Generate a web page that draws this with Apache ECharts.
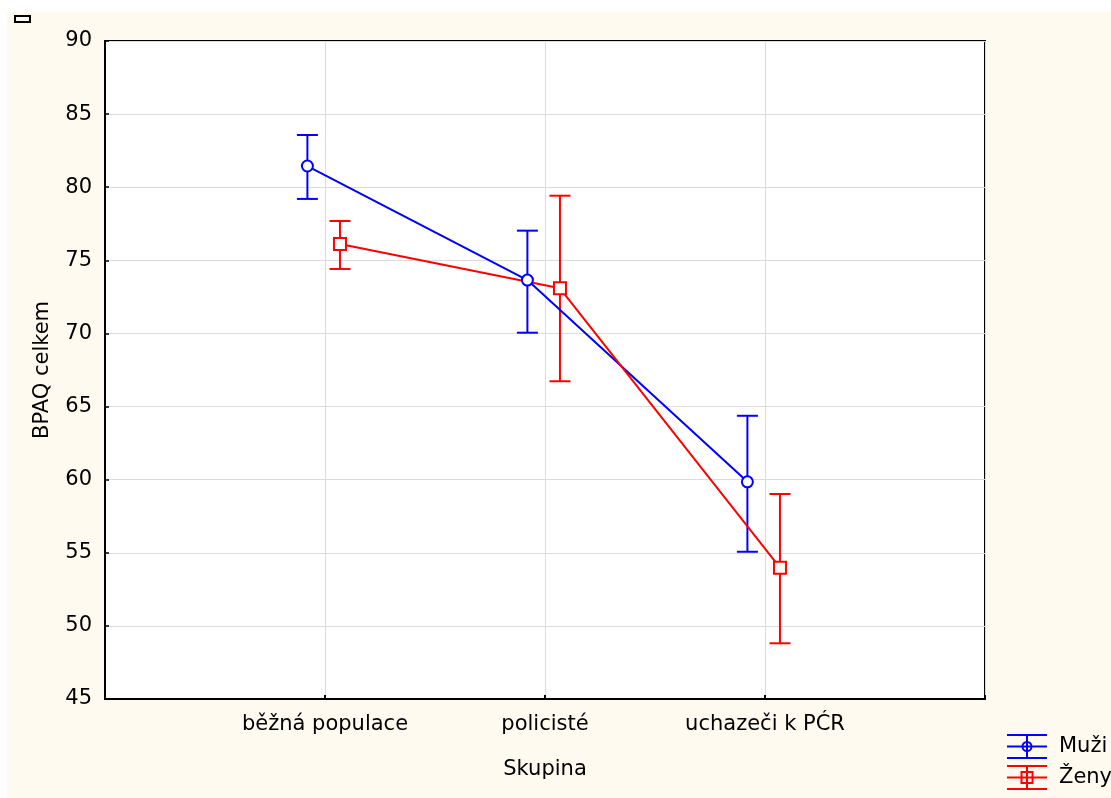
<!DOCTYPE html>
<html>
<head>
<meta charset="utf-8">
<script src="https://cdn.jsdelivr.net/npm/echarts@6/dist/echarts.min.js"></script>
<style>
html,body{margin:0;padding:0;background:#ffffff;}
#c{width:1111px;height:798px;}
</style>
</head>
<body>
<div id="c"></div>
<script>
var categories = ['běžná populace', 'policisté', 'uchazeči k PĆR'];
var yTicks = [45, 50, 55, 60, 65, 70, 75, 80, 85, 90];

var muziMean = [81.45, 73.65, 59.85];
var muziLow  = [79.2, 70.05, 55.07];
var muziHigh = [83.57, 77.03, 64.37];

var zenyMean = [76.12, 73.09, 53.98];
var zenyLow  = [74.41, 66.73, 48.81];
var zenyHigh = [77.69, 79.42, 59.02];

var BLUE = '#0000ff', RED = '#ff0000';
var OFF_M = -0.08, OFF_Z = 0.068;
var FONT = "'DejaVu Sans', 'Liberation Sans', Arial, sans-serif";
var FS = 21;
var LW = 2;

function pts(mean, off) {
  return mean.map(function (v, i) { return [i + 1 + off, v]; });
}
function bars(low, high, off) {
  return low.map(function (v, i) { return [i + 1 + off, v, high[i]]; });
}
function errRender(color) {
  return function (params, api) {
    var x = api.value(0);
    var lo = api.coord([x, api.value(1)]);
    var hi = api.coord([x, api.value(2)]);
    var hw = 10.5;
    var st = { stroke: color, lineWidth: LW };
    return {
      type: 'group',
      children: [
        { type: 'line', shape: { x1: lo[0], y1: lo[1], x2: hi[0], y2: hi[1] }, style: st },
        { type: 'line', shape: { x1: lo[0] - hw, y1: lo[1], x2: lo[0] + hw, y2: lo[1] }, style: st },
        { type: 'line', shape: { x1: hi[0] - hw, y1: hi[1], x2: hi[0] + hw, y2: hi[1] }, style: st }
      ]
    };
  };
}

var iconBase = 'M0 0H40V2H0Z M0 11.5H40V13.5H0Z M0 23H40V25H0Z M19 0H21V25H19Z ';
var iconM = 'path://' + iconBase + 'M25.5 12.5A5.5 5.5 0 1 1 14.5 12.5A5.5 5.5 0 1 1 25.5 12.5Z M23.6 12.5A3.6 3.6 0 1 0 16.4 12.5A3.6 3.6 0 1 0 23.6 12.5Z';
var iconZ = 'path://' + iconBase + 'M13.5 6H26.5V19H13.5Z M15.5 8V17H24.5V8Z';

var chart = echarts.init(document.getElementById('c'), null, { renderer: 'canvas' });
chart.setOption({
  backgroundColor: '#ffffff',
  animation: false,
  textStyle: { fontFamily: FONT },
  graphic: [
    { type: 'rect', z: -10, shape: { x: 7, y: 12, width: 1104, height: 786 }, style: { fill: '#fffaf0' } },
    { type: 'rect', shape: { x: 15, y: 16, width: 15, height: 6 }, style: { fill: '#fffaf0', stroke: '#000', lineWidth: 2 } }
  ],
  grid: {
    left: 105, top: 41, width: 880, height: 658,
    show: true, backgroundColor: '#ffffff', borderColor: '#000000', borderWidth: 2, z: 0
  },
  legend: {
    orient: 'vertical', left: 1007, top: 734, padding: 0,
    itemWidth: 40, itemHeight: 25, itemGap: 6,
    textStyle: { fontSize: FS, color: '#000', fontFamily: FONT, padding: [0, 0, 0, 7] },
    selectedMode: false,
    data: [
      { name: 'Muži', icon: iconM, itemStyle: { color: BLUE, borderWidth: 0 } },
      { name: 'Ženy', icon: iconZ, itemStyle: { color: RED, borderWidth: 0 } }
    ]
  },
  xAxis: {
    type: 'value', min: 0, max: 4, interval: 1,
    name: 'Skupina', nameLocation: 'middle', nameGap: 60,
    nameTextStyle: { fontSize: FS, color: '#000', fontFamily: FONT },
    axisLine: { show: true, lineStyle: { color: '#000', width: 2 } },
    axisTick: { show: true, inside: true, length: 4, lineStyle: { color: '#000', width: 2 } },
    axisLabel: {
      fontSize: FS, color: '#000', margin: 15, fontFamily: FONT,
      formatter: function (v) { return categories[v - 1] || ''; }
    },
    splitLine: { show: true, lineStyle: { color: '#dcdcdc', width: 1 } }
  },
  yAxis: {
    type: 'value', min: yTicks[0], max: yTicks[yTicks.length - 1], interval: 5,
    name: 'BPAQ celkem', nameLocation: 'middle', nameGap: 52,
    nameTextStyle: { fontSize: FS, color: '#000', fontFamily: FONT },
    axisLine: { show: true, lineStyle: { color: '#000', width: 2 } },
    axisTick: { show: true, inside: true, length: 4, lineStyle: { color: '#000', width: 1.5 } },
    axisLabel: { fontSize: FS, color: '#000', margin: 13, fontFamily: FONT },
    splitLine: { show: true, lineStyle: { color: '#dcdcdc', width: 1 } }
  },
  series: [
    {
      name: 'Muži', type: 'line', data: pts(muziMean, OFF_M), z: 5,
      symbol: 'emptyCircle', symbolSize: 11,
      lineStyle: { color: BLUE, width: LW },
      itemStyle: { color: BLUE, borderColor: BLUE, borderWidth: LW }
    },
    {
      name: 'Ženy', type: 'line', data: pts(zenyMean, OFF_Z), z: 5,
      symbol: 'emptyRect', symbolSize: 12,
      lineStyle: { color: RED, width: LW },
      itemStyle: { color: RED, borderColor: RED, borderWidth: LW }
    },
    {
      name: 'Muži', type: 'custom', data: bars(muziLow, muziHigh, OFF_M), z: 4,
      renderItem: errRender(BLUE), itemStyle: { color: BLUE }
    },
    {
      name: 'Ženy', type: 'custom', data: bars(zenyLow, zenyHigh, OFF_Z), z: 4,
      renderItem: errRender(RED), itemStyle: { color: RED }
    }
  ]
});
</script>
</body>
</html>
